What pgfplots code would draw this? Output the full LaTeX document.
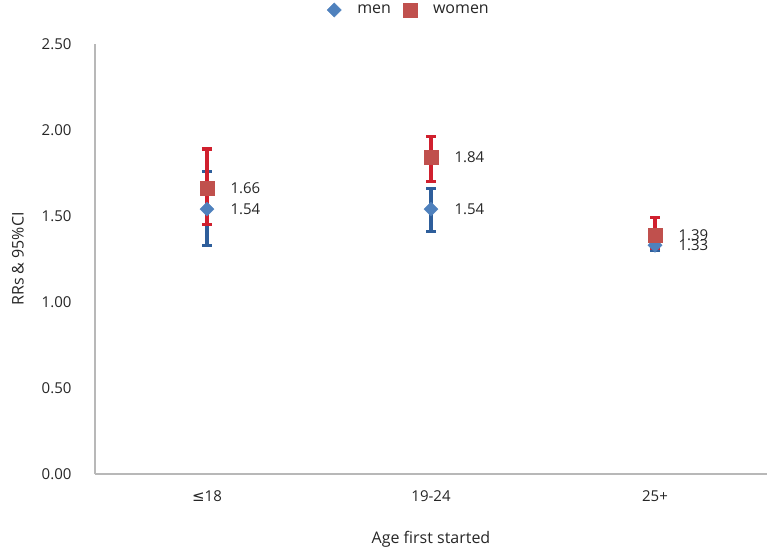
\documentclass[border=0pt]{standalone}
\usepackage{pgfplots}
\pgfplotsset{compat=1.18}
\usepackage{pgfplotstable}
\usepackage{fontspec}
\setmainfont{Open Sans}
\newfontfamily\sym{DejaVu Sans}
\definecolor{menc}{HTML}{4F81BD}
\definecolor{womc}{HTML}{C0504D}
\definecolor{menbar}{HTML}{2E5E9B}
\definecolor{wombar}{HTML}{D0202E}
\definecolor{txt}{HTML}{262626}
\pgfplotstableread{
x y ep em
0 1.54 0.22 0.21
1 1.54 0.12 0.13
2 1.33 0.03 0.03
}\men
\pgfplotstableread{
x y ep em
0 1.66 0.23 0.21
1 1.84 0.12 0.14
2 1.39 0.10 0.08
}\women
\begin{document}
\begin{tikzpicture}
\useasboundingbox (-95pt,-76pt) rectangle (674pt,474pt);
\begin{axis}[
  scale only axis, width=672pt, height=430pt,
  at={(0,0)}, anchor=south west,
  xmin=-0.5, xmax=2.5, ymin=0, ymax=2.5,
  axis x line=bottom, axis y line=left,
  axis line style={-, draw=black!28, line width=1.6pt},
  xtick={0,1,2}, xticklabels={{\sym≤}18,19-24,25+},
  ytick={0,0.5,1,1.5,2,2.5},
  major tick length=0pt,
  /pgf/number format/assume math mode=true,
  yticklabel={\pgfmathprintnumber[fixed,fixed zerofill,precision=2]{\tick}},
  tick label style={font=\fontsize{15}{18}\selectfont, text=txt},
  xticklabel style={yshift=-13pt},
  yticklabel style={xshift=-20pt},
  xlabel={Age first started},
  ylabel={RRs \& 95\%CI},
  label style={font=\fontsize{16}{19}\selectfont, text=txt},
  xlabel style={at={(axis description cs:0.5,0)}, anchor=center, yshift=-65pt},
  ylabel style={at={(axis description cs:-0.1146,0.5)}, anchor=center},
  clip=false,
  legend style={at={(axis description cs:0.5,1)}, anchor=center, yshift=34pt, xshift=-22pt,
    draw=none, fill=none, font=\fontsize{16}{19}\selectfont, text=txt,
    /tikz/every odd column/.append style={column sep=14pt},
    /tikz/every even column/.append style={column sep=10pt}},
  legend columns=2,
]
% error bars
\addplot[only marks, mark=none, forget plot,
  error bars/.cd, y dir=both, y explicit,
  error bar style={line width=3.2pt, draw=menbar},
  error mark options={rotate=90, mark size=5pt, line width=3.2pt, draw=menbar}]
  table[x=x, y=y, y error plus=ep, y error minus=em]{\men};
\addplot[only marks, mark=none, forget plot,
  error bars/.cd, y dir=both, y explicit,
  error bar style={line width=3.2pt, draw=wombar},
  error mark options={rotate=90, mark size=5pt, line width=3.2pt, draw=wombar}]
  table[x=x, y=y, y error plus=ep, y error minus=em]{\women};
% markers
\addplot[only marks, mark=square*, mark size=5pt, mark options={rotate=45, fill=menc, draw=menc},
  point meta=y, nodes near coords={\pgfmathprintnumber[fixed,fixed zerofill,precision=2]{\pgfplotspointmeta}},
  nodes near coords style={anchor=west, xshift=20pt, font=\fontsize{15}{18}\selectfont, text=txt}]
  table[x=x, y=y]{\men};
\addlegendentry{men}
\addplot[only marks, mark=square*, mark size=7pt, mark options={fill=womc, draw=womc},
  point meta=y, nodes near coords={\pgfmathprintnumber[fixed,fixed zerofill,precision=2]{\pgfplotspointmeta}},
  nodes near coords style={anchor=west, xshift=20pt, font=\fontsize{15}{18}\selectfont, text=txt}]
  table[x=x, y=y]{\women};
\addlegendentry{women}
\end{axis}
\end{tikzpicture}
\end{document}
